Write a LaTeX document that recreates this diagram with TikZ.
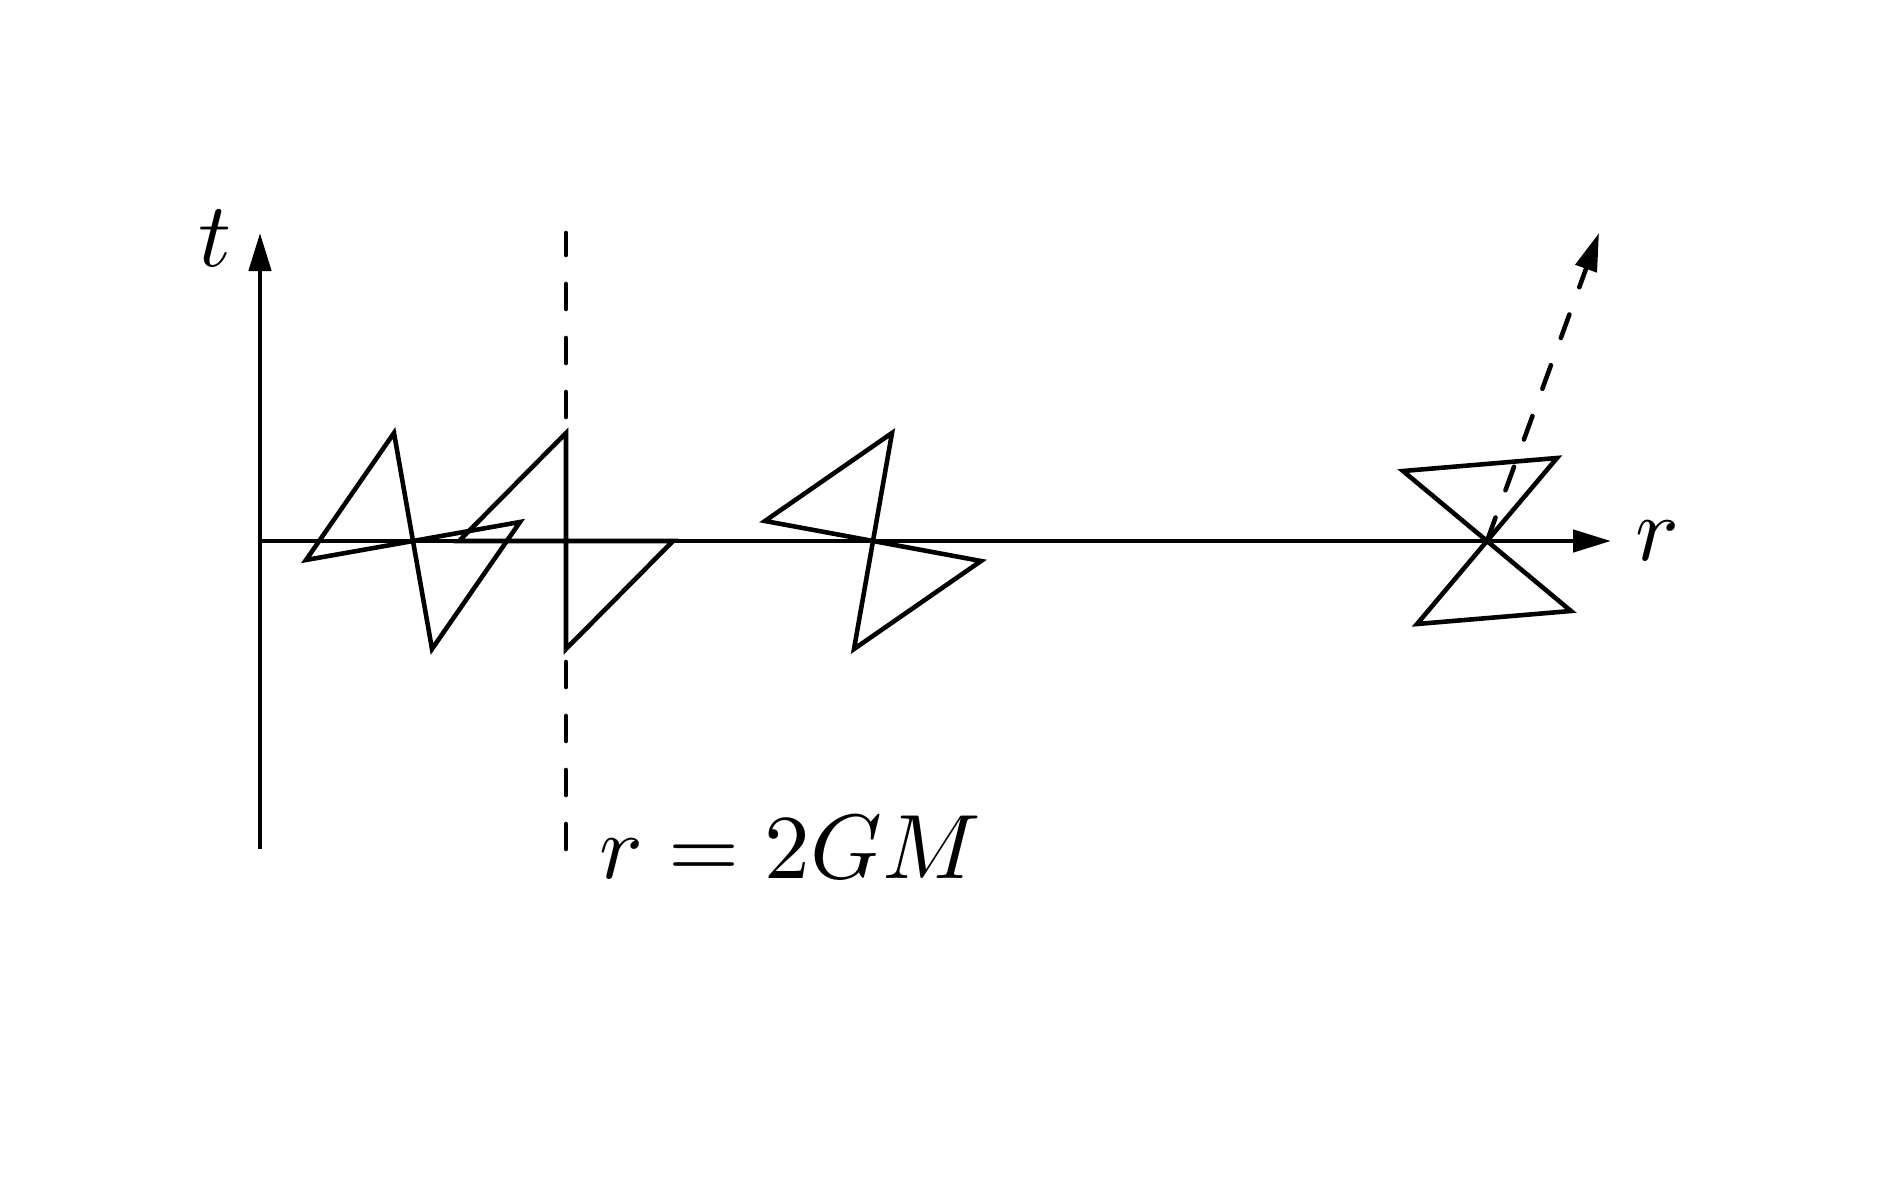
\documentclass[tikz,border=0pt]{standalone}
\usetikzlibrary{arrows.meta}

\begin{document}
\begin{tikzpicture}[line width=1.3pt, every node/.style={scale=2.6},
	tip/.style={-{Triangle[length=3.8mm,width=2.2mm]}},
	horizon/.style={line cap=round, dash pattern=on 2.5mm off 2.9mm}]
\useasboundingbox (-2.60,-6.39) rectangle (16.28,5.41);
\def\h{3.08}
% axes
\coordinate (O) at (0,0);
\coordinate (tlo) at (0,-\h);
\coordinate (thi) at (0,\h);
\coordinate (rend) at (13.51,0);
\draw[tip] (tlo) -- (thi);
\node (tlab) at (-0.45,3.03) {$t$};
% light cones, tilting over as r goes down
\foreach \cx/\ax/\ay/\bx/\by in {1.53/-0.19/1.08/1.07/0.19, 3.06/0/1.08/1.07/0,
	6.13/0.19/1.08/1.08/-0.20, 12.27/0.70/0.83/0.84/-0.70}
	\draw (\cx+\ax,\ay) -- (\cx-\bx,-\by) -- (\cx+\bx,\by) -- (\cx-\ax,-\ay) -- cycle;
\draw[tip] (O) -- (rend);
\node (rlab) at (13.97,0) {$r$};
% horizon
\coordinate (hlo) at (3.06,-\h);
\coordinate (hhi) at (3.06,\h);
\draw[horizon] (hlo) -- (hhi);
\node[anchor=base west] (hlab) at (3.03,-3.37) {$r=2GM$};
% escaping path
\coordinate (C4) at (12.27,0);
\coordinate (esc) at (13.39,\h);
\draw[horizon,tip] (C4) -- (esc);

\end{tikzpicture}
\end{document}
